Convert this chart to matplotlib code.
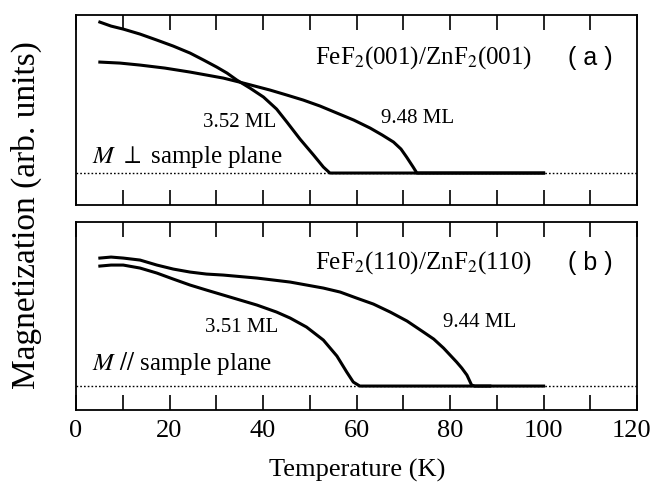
import matplotlib
matplotlib.use("Agg")
import matplotlib.pyplot as plt
import matplotlib.transforms as mtransforms
from matplotlib.ticker import MultipleLocator

plt.rcParams['font.family'] = ['Liberation Serif', 'DejaVu Serif']
plt.rcParams['mathtext.fontset'] = 'stix'

# panel (a): M perpendicular to sample plane
T_a352 = [5.1, 7.5, 10.1, 13.7, 17.3, 20.8, 24.4, 27.3, 30.1, 32.3, 34.4, 37.2, 40.1,
          42.9, 45.1, 47.9, 50.8, 52.9, 54.3, 57, 100]
M_a352 = [15.1, 14.7, 14.4, 13.9, 13.3, 12.7, 12.0, 11.3, 10.6, 10.0, 9.3, 8.5, 7.6,
          6.4, 5.1, 3.4, 1.8, 0.6, 0.0, 0.0, 0.0]
T_a948 = [5.1, 9.4, 13.7, 19.0, 24.4, 31.5, 35.8, 41.5, 45.1, 48.6, 52.2, 55.8, 59.4,
          62.9, 65.5, 67.9, 69.5, 70.7, 72.1, 72.9, 100]
M_a948 = [11.1, 11.0, 10.8, 10.5, 10.1, 9.5, 9.0, 8.3, 7.8, 7.3, 6.7, 6.0, 5.3,
          4.5, 3.8, 3.1, 2.4, 1.6, 0.6, 0.0, 0.0]

# panel (b): M parallel to sample plane
T_b351 = [5.1, 7.5, 10.1, 13.7, 17.3, 20.8, 24.4, 27.9, 31.5, 35.1, 38.7, 42.9, 45.8,
          49.3, 52.9, 55.8, 57.9, 59.3, 60.7, 63, 100]
M_b351 = [12.0, 12.1, 12.1, 11.8, 11.3, 10.7, 10.1, 9.6, 9.1, 8.6, 8.1, 7.4, 6.8,
          5.9, 4.6, 3.0, 1.4, 0.4, 0.0, 0.0, 0.0]
T_b944 = [5.1, 7.5, 10.1, 13.7, 17.3, 20.8, 24.4, 27.9, 31.5, 38.7, 45.8, 52.9, 56.5,
          60.0, 63.6, 67.2, 70.8, 74.3, 76.5, 78.6, 80.0, 81.4, 82.5, 83.6, 84.6, 85.3, 88.5]
M_b944 = [12.8, 12.9, 12.8, 12.6, 12.1, 11.7, 11.4, 11.2, 11.1, 10.8, 10.4, 9.8, 9.4,
          8.8, 8.2, 7.4, 6.5, 5.4, 4.7, 3.8, 3.1, 2.4, 1.8, 1.1, 0.1, 0.0, 0.0]

xticks = [0, 20, 40, 60, 80, 100, 120]

fig = plt.figure(figsize=(6.54, 4.87), dpi=100)
ax1 = fig.add_axes([0.1162, 0.579, 0.858, 0.390])
ax2 = fig.add_axes([0.1162, 0.158, 0.858, 0.386])

def style(ax, labels):
    ax.set_xlim(0, 120)
    ax.xaxis.set_major_locator(MultipleLocator(20))
    ax.xaxis.set_minor_locator(MultipleLocator(10))
    ax.tick_params(axis='x', which='both', direction='in', top=True, bottom=True,
                   length=10.5, width=1.2, labelsize=19, pad=7, labelbottom=labels)
    ax.set_yticks([])
    for s in ax.spines.values():
        s.set_linewidth(1.3)
    ax.axhline(0, color='black', ls=(0, (1.2, 1.5)), lw=1.0)

style(ax1, False)
style(ax2, True)
ax1.set_ylim(-3.2, 15.8)
ax2.set_ylim(-2.4, 16.4)
ax2.set_xticks(xticks)

ax1.plot(T_a352, M_a352, color='black', lw=2.2)
ax1.plot(T_a948, M_a948, color='black', lw=2.2)
ax2.plot(T_b351, M_b351, color='black', lw=2.2)
ax2.plot(T_b944, M_b944, color='black', lw=2.2)

# keep the last tick label inside the canvas
fig.canvas.draw()
last = ax2.get_xticklabels()[-1]
last.set_transform(last.get_transform() +
                   mtransforms.ScaledTranslation(-4 / 72, 0, fig.dpi_scale_trans))

ax1.text(0.813, 0.774, r'FeF$_2$(001)/ZnF$_2$(001)', transform=ax1.transAxes,
         ha='right', va='center', fontsize=18)
ax1.text(0.916, 0.774, '( a )', transform=ax1.transAxes, ha='center', va='center',
         fontsize=18, family=['Liberation Sans', 'DejaVu Sans'])
ax1.text(0.608, 0.458, '9.48 ML', transform=ax1.transAxes, ha='center', va='center', fontsize=15)
ax1.text(0.292, 0.432, '3.52 ML', transform=ax1.transAxes, ha='center', va='center', fontsize=15)
ax1.text(0.0285, 0.253, r'$M$ $\perp$ sample plane', transform=ax1.transAxes,
         ha='left', va='center', fontsize=18)

ax2.text(0.813, 0.782, r'FeF$_2$(110)/ZnF$_2$(110)', transform=ax2.transAxes,
         ha='right', va='center', fontsize=18)
ax2.text(0.916, 0.782, '( b )', transform=ax2.transAxes, ha='center', va='center',
         fontsize=18, family=['Liberation Sans', 'DejaVu Sans'])
ax2.text(0.720, 0.468, '9.44 ML', transform=ax2.transAxes, ha='center', va='center', fontsize=15)
ax2.text(0.296, 0.441, '3.51 ML', transform=ax2.transAxes, ha='center', va='center', fontsize=15)
ax2.text(0.0285, 0.25, r'$M$ $//$ sample plane', transform=ax2.transAxes,
         ha='left', va='center', fontsize=18)

fig.text(0.546, 0.035, 'Temperature (K)', ha='center', va='center', fontsize=19)
fig.text(0.041, 0.558, 'Magnetization (arb. units)', ha='center', va='center',
         rotation=90, fontsize=24)

fig.savefig('out.png', dpi=100)
